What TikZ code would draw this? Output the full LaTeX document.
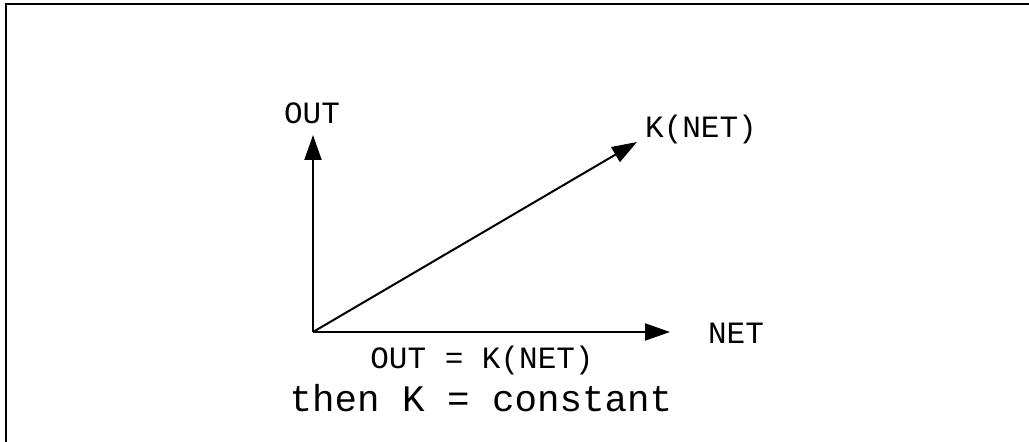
\documentclass[tikz,border=0pt]{standalone}
\usepackage{fontspec}
\setmonofont{Liberation Mono}
\usepackage{tikz}
\usetikzlibrary{arrows.meta}
\tikzset{
  axisarrow/.style={-{Triangle[length=12.5pt,width=8.5pt]},line width=1pt,draw=black},
  axislabel/.style={inner sep=0pt,font=\ttfamily\fontsize{15.5pt}{18pt}\selectfont,text=black},
  notelabel/.style={inner sep=0pt,font=\ttfamily\fontsize{18.75pt}{22pt}\selectfont,text=black},
}
\begin{document}
\begin{tikzpicture}[x=0.5pt,y=-0.5pt]
  \useasboundingbox (0,0) rectangle (1029,442);
  \draw[line width=1pt] (5.5,1100) -- (5.5,4.5) -- (1100,4.5);
  % axes
  \coordinate (o) at (313,332);
  \coordinate (ytip) at (313,135);
  \coordinate (xtip) at (670,332);
  \coordinate (ktip) at (637,142);
  \draw[axisarrow] (o)--(ytip); \draw[axisarrow] (o)--(xtip); \draw[axisarrow] (o)--(ktip);
  % labels
  \node[axislabel] (outlbl) at (312,113) {OUT};
  \node[axislabel] (klbl) at (701,129) {K(NET)};
  \node[axislabel] (netlbl) at (736,333) {NET};
  \node[axislabel] (eqlbl) at (482,360) {OUT = K(NET)};
  \node[notelabel] (constlbl) at (481,398) {then K = constant};
\end{tikzpicture}
\end{document}
